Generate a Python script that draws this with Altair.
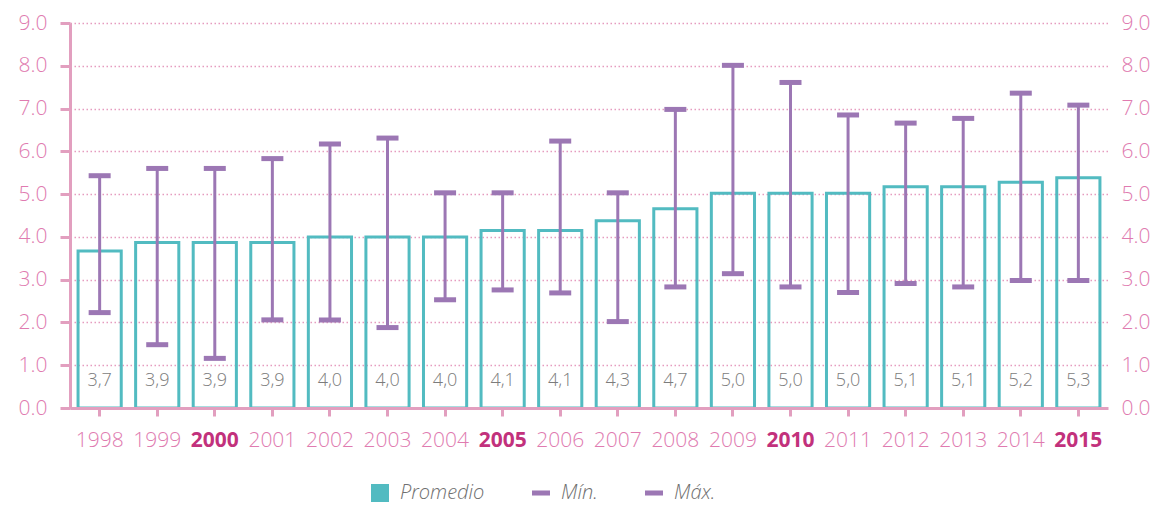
import altair as alt
import pandas as pd

years = ["1998", "1999", "2000", "2001", "2002", "2003", "2004", "2005", "2006",
         "2007", "2008", "2009", "2010", "2011", "2012", "2013", "2014", "2015"]
promedio = [3.67, 3.87, 3.87, 3.87, 4.0, 4.0, 4.0, 4.15, 4.15,
            4.38, 4.66, 5.02, 5.02, 5.02, 5.17, 5.17, 5.28, 5.38]
etiquetas = ["3,7", "3,9", "3,9", "3,9", "4,0", "4,0", "4,0", "4,1", "4,1",
             "4,3", "4,7", "5,0", "5,0", "5,0", "5,1", "5,1", "5,2", "5,3"]
minimo = [2.23, 1.48, 1.16, 2.06, 2.06, 1.88, 2.53, 2.76, 2.69,
          2.02, 2.83, 3.14, 2.83, 2.70, 2.91, 2.83, 2.98, 2.98]
maximo = [5.43, 5.60, 5.60, 5.83, 6.17, 6.31, 5.03, 5.03, 6.24,
          5.03, 6.98, 8.01, 7.61, 6.85, 6.66, 6.77, 7.36, 7.08]
series = ["Promedio", "Mín.", "Máx."]
destacados = ["2000", "2005", "2010", "2015"]
y_ticks = [0, 1, 2, 3, 4, 5, 6, 7, 8, 9]

TEAL = "#52bbc1"
PURPLE = "#9c77b4"
PINK_AX = "#e29fbf"
PINK_LBL = "#e07bb0"
MAGENTA = "#c2317c"
GRID = "#e59cbf"
FONT = "Open Sans"

df = pd.DataFrame({"year": years, "prom": promedio, "lbl": etiquetas,
                   "mn": minimo, "mx": maximo})
leg_df = pd.DataFrame({"serie": series})

xscale = alt.Scale(domain=years, paddingInner=0.25, paddingOuter=0.14)
yscale = alt.Scale(domain=[0, 9], nice=False)

hl_test = "indexof(" + str(destacados) + ", datum.value) >= 0"

x_axis = alt.Axis(
    title=None, labelAngle=0, domainColor=PINK_AX, domainWidth=3,
    tickColor=PINK_AX, tickWidth=3, tickSize=8, labelPadding=13,
    labelFont=FONT, labelFontSize=21,
    labelColor={"condition": {"test": hl_test, "value": MAGENTA}, "value": PINK_LBL},
    labelFontWeight={"condition": {"test": hl_test, "value": "bold"}, "value": 300},
    zindex=1,
)
X = alt.X("year:N", scale=xscale, axis=x_axis)

y_left = alt.Axis(
    title=None, values=y_ticks, format=".1f", orient="left",
    domainColor=PINK_AX, domainWidth=3, tickColor=PINK_AX, tickWidth=3, tickSize=10,
    labelPadding=13, labelFont=FONT, labelFontSize=21, labelFontWeight=300,
    labelColor=PINK_LBL, grid=True, gridColor=GRID, gridDash=[1.5, 2.5], gridWidth=1.5,
)
y_right = alt.Axis(
    title=None, values=y_ticks, format=".1f", orient="right",
    domain=False, ticks=False, labelPadding=13, labelFont=FONT, labelFontSize=21,
    labelFontWeight=300, labelColor=PINK_LBL, grid=False,
)

base = alt.Chart(df)

bars = base.mark_bar(fillOpacity=0, stroke=TEAL, strokeWidth=3).encode(
    x=X,
    y=alt.Y("prom:Q", scale=yscale, axis=y_left),
)

labels = base.mark_text(font=FONT, fontSize=18, color="#7c7c7c", fontWeight=300,
                        baseline="middle", dy=-27).encode(
    x=X, y=alt.datum(0, scale=yscale, axis=None), text="lbl:N",
)

rule = base.mark_rule(color=PURPLE, strokeWidth=3).encode(
    x=X, y=alt.Y("mn:Q", scale=yscale, axis=y_right), y2="mx:Q",
)

cap_max = base.mark_tick(color=PURPLE, thickness=5, size=22, opacity=1).encode(
    x=X, y=alt.Y("mx:Q", scale=yscale, axis=None),
)
cap_min = base.mark_tick(color=PURPLE, thickness=5, size=22, opacity=1).encode(
    x=X, y=alt.Y("mn:Q", scale=yscale, axis=None),
)

line_path = "M-1,-0.28H1V0.28H-1Z"
leg_spec = dict(title=None, orient="none", legendX=300, legendY=460,
                direction="horizontal", symbolOpacity=1)
legend = alt.Chart(leg_df).mark_point(opacity=0, filled=True).encode(
    color=alt.Color("serie:N", scale=alt.Scale(domain=series, range=[TEAL, PURPLE, PURPLE]),
                    legend=alt.Legend(**leg_spec)),
    shape=alt.Shape("serie:N", scale=alt.Scale(domain=series, range=["square", line_path, line_path]),
                    legend=alt.Legend(**leg_spec)),
)

chart = alt.layer(bars, labels, rule, cap_max, cap_min, legend).resolve_axis(
    y="independent"
).properties(
    width=1038, height=385,
    autosize=alt.AutoSizeParams(type="none"),
    padding={"left": 62, "top": 15, "right": 45, "bottom": 98},
).configure_view(stroke=None).configure_legend(
    labelFont=FONT, labelFontSize=20, labelFontStyle="italic", labelFontWeight=300,
    labelColor="#707070", symbolSize=324, symbolStrokeWidth=0, labelOffset=10,
    columnPadding=46, padding=0,
)

chart.save("out.html", embed_options={"renderer": "svg", "actions": False})
